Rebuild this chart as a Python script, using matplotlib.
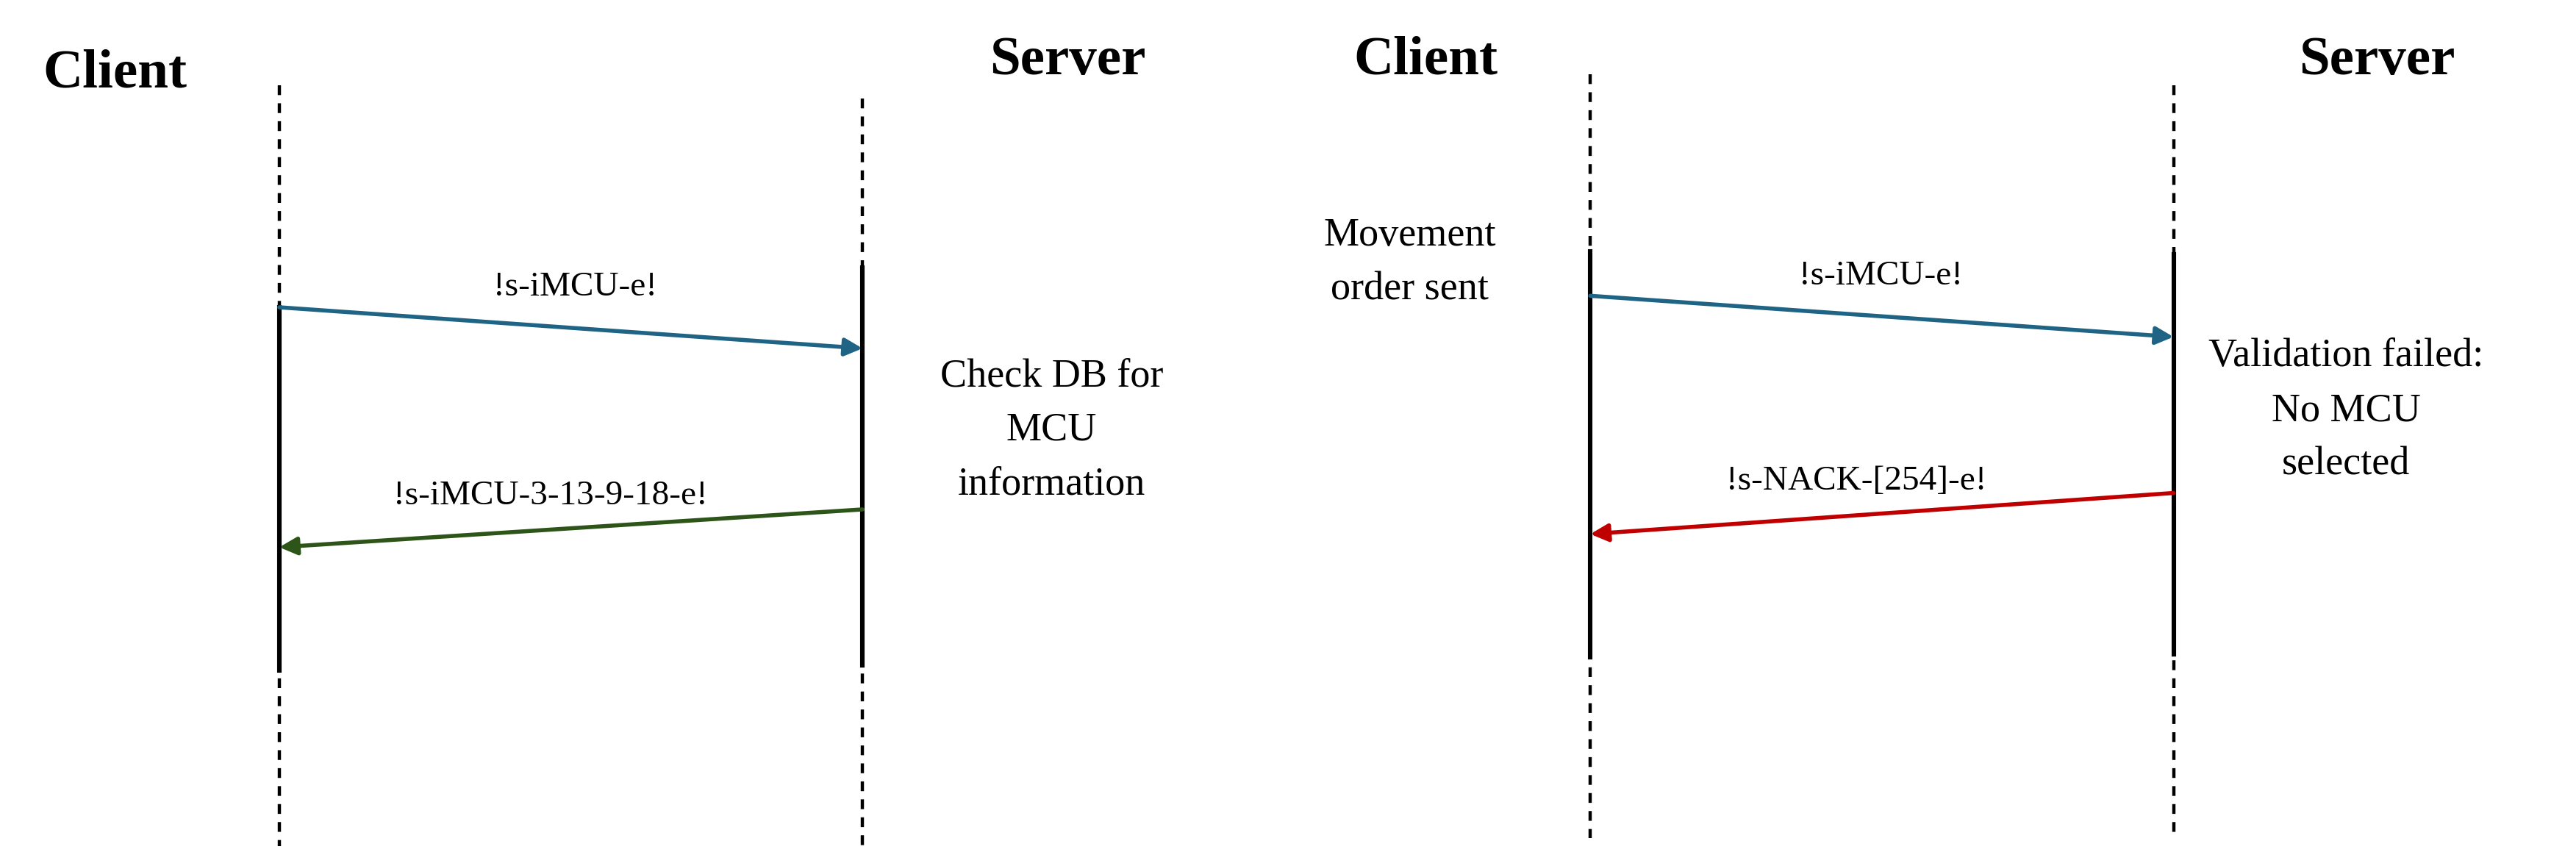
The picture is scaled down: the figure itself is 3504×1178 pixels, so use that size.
import matplotlib
matplotlib.use("Agg")
import matplotlib.pyplot as plt

plt.rcParams['font.family'] = ['Liberation Serif', 'DejaVu Serif']

# Data (display coordinates in reference units, 1568 x 527)
lifeline_x = [170, 525, 968, 1323]
dashed_span = [(52, 515), (60, 515), (45, 510), (52, 510)]
solid_span = [(187, 408), (163, 405), (153, 400), (155, 398)]
actor_labels = ["Client", "Server", "Client", "Server"]
actor_pos = [(70, 45), (650, 37), (868, 37), (1447, 37)]
messages = ["!s-iMCU-e!", "!s-iMCU-3-13-9-18-e!", "!s-iMCU-e!", "!s-NACK-[254]-e!"]
msg_from = [(170, 187), (525, 310), (968, 180), (1323, 300)]
msg_to = [(525, 212), (170, 333), (1323, 205), (968, 325)]
msg_label_pos = [(350, 175), (335, 302), (1145, 168), (1130, 293)]
msg_colors = ["#1f6485", "#2e5519", "#1f6485", "#c00000"]
notes = ["Check DB for\nMCU\ninformation", "Movement\norder sent", "Validation failed:\nNo MCU\nselected"]
note_pos = [(640, 262), (858, 160), (1428, 250)]

fig = plt.figure(figsize=(17.52, 5.89), dpi=200)
ax = fig.add_axes([0, 0, 1, 1])
ax.set_xlim(0, 1568)
ax.set_ylim(527, 0)
ax.axis('off')

for x, (d0, d1), (s0, s1) in zip(lifeline_x, dashed_span, solid_span):
    ax.plot([x, x], [d0, d1], color='black', lw=1.6, ls=(0, (3, 2.5)))
    ax.plot([x, x], [s0, s1], color='black', lw=2.2)

for t, (x, y) in zip(actor_labels, actor_pos):
    ax.text(x, y, t, fontsize=27, fontweight='bold', ha='center', va='center')

for t, a, b, lp, c in zip(messages, msg_from, msg_to, msg_label_pos, msg_colors):
    ax.annotate('', xy=b, xytext=a,
                arrowprops=dict(arrowstyle='-|>', color=c, lw=2, mutation_scale=18,
                                shrinkA=0, shrinkB=0))
    ax.text(lp[0], lp[1], t, fontsize=17, ha='center', va='center')

for t, (x, y) in zip(notes, note_pos):
    ax.text(x, y, t, fontsize=19.5, ha='center', va='center', linespacing=1.6)

fig.savefig('out.png', dpi=200)
